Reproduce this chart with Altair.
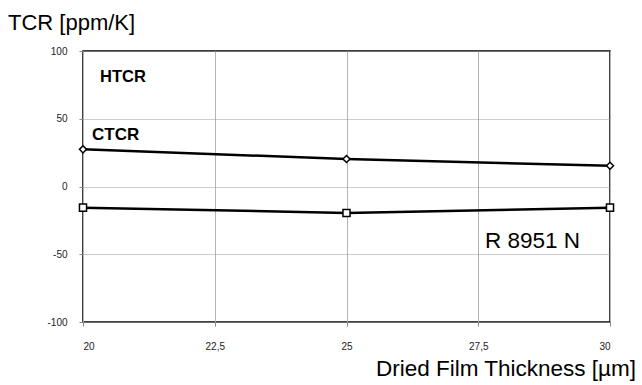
import altair as alt
import pandas as pd

# Film thickness (µm) and measured TCR values (ppm/K)
thickness = [20, 25, 30]
ctcr = [27.4, 20.3, 15.3]
htcr = [-15.6, -19.5, -15.6]

x_ticks = [20, 22.5, 25, 27.5, 30]
y_ticks = [-100, -50, 0, 50, 100]

FONT = "Liberation Sans"

df_c = pd.DataFrame({"thickness": thickness, "tcr": ctcr})
df_h = pd.DataFrame({"thickness": thickness, "tcr": htcr})

x_enc = alt.X(
    "thickness:Q",
    scale=alt.Scale(domain=[20, 30], nice=False, zero=False),
    axis=alt.Axis(
        values=x_ticks,
        labelExpr="replace('' + datum.value, '.', ',')",
        title=None,
        domain=False,
        grid=True,
        gridColor="#b4b4b4",
        gridWidth=1,
        tickSize=4,
        tickColor="#888888",
        labelPadding=15,
        labelFont=FONT,
        labelFontSize=10,
        labelColor="#222222",
    ),
)
y_enc = alt.Y(
    "tcr:Q",
    scale=alt.Scale(domain=[-100, 100], nice=False),
    axis=alt.Axis(
        values=y_ticks,
        labelExpr="'' + datum.value",
        title=None,
        domain=False,
        grid=True,
        gridColor="#9a9a9a",
        gridDash=[1, 1],
        gridWidth=1,
        tickSize=4,
        tickColor="#888888",
        labelPadding=12,
        labelFont=FONT,
        labelFontSize=10,
        labelColor="#222222",
    ),
)

line_c = alt.Chart(df_c).mark_line(color="black", strokeWidth=2.5).encode(x=x_enc, y=y_enc)
pts_c = alt.Chart(df_c).mark_point(
    shape="diamond", size=50, filled=True, fill="white", stroke="black", strokeWidth=1.5, opacity=1
).encode(x="thickness:Q", y="tcr:Q")

line_h = alt.Chart(df_h).mark_line(color="black", strokeWidth=2.5).encode(x="thickness:Q", y="tcr:Q")
pts_h = alt.Chart(df_h).mark_point(
    shape="square", size=50, filled=True, fill="white", stroke="black", strokeWidth=1.5, opacity=1
).encode(x="thickness:Q", y="tcr:Q")


def label(text, x, y, size, weight="normal", align="left"):
    return alt.Chart(pd.DataFrame({"t": [text]})).mark_text(
        font=FONT, fontSize=size, fontWeight=weight, align=align, baseline="alphabetic", color="black"
    ).encode(x=alt.value(x), y=alt.value(y), text="t:N")


texts = [
    label("TCR [ppm/K]", -75, -21, 22),
    label("HTCR", 17, 31, 16.5, "bold"),
    label("CTCR", 9, 89, 17, "bold"),
    label("R 8951 N", 402, 197, 22.5),
    label("Dried Film Thickness [µm]", 553, 325, 22.5, align="right"),
]

chart = alt.layer(line_c, pts_c, line_h, pts_h, *texts).properties(
    width=527,
    height=271,
    autosize="none",
    padding={"left": 83, "top": 51, "right": 32, "bottom": 63},
    background="white",
).configure_view(stroke="black", strokeWidth=1.5)

chart.save("out.html", embed_options={"renderer": "svg", "actions": False})
